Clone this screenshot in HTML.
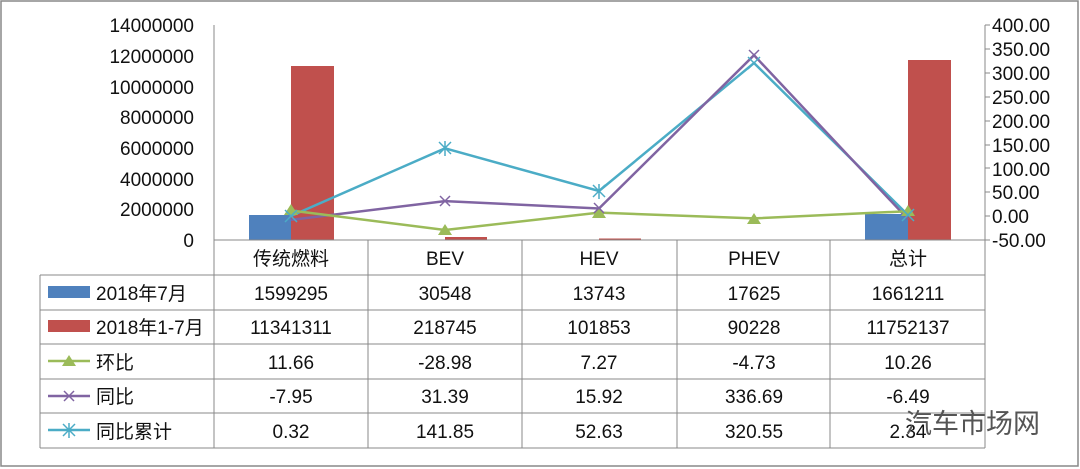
<!DOCTYPE html><html><head><meta charset="utf-8"><style>body{margin:0;background:#fff}svg{display:block}text{font-family:"Liberation Sans","Noto Sans CJK SC",sans-serif;fill:#111}</style></head><body>
<svg width="1080" height="469" viewBox="0 0 1080 469">
<rect x="1" y="1" width="1077" height="465" fill="#fff" stroke="#888" stroke-width="1.5"/>
<g font-size="19" text-anchor="end">
<text x="194" y="32">14000000</text><text x="194" y="63">12000000</text><text x="194" y="94">10000000</text><text x="194" y="124">8000000</text><text x="194" y="155">6000000</text><text x="194" y="186">4000000</text><text x="194" y="216">2000000</text><text x="194" y="247">0</text>
</g>
<g font-size="19">
<text x="992" y="32">400.00</text><text x="992" y="56">350.00</text><text x="992" y="80">300.00</text><text x="992" y="104">250.00</text><text x="992" y="128">200.00</text><text x="992" y="152">150.00</text><text x="992" y="176">100.00</text><text x="992" y="199">50.00</text><text x="992" y="223">0.00</text><text x="992" y="247">-50.00</text>
</g>
<line x1="214" y1="25" x2="214" y2="448" stroke="#888"/>
<line x1="985" y1="25" x2="985" y2="448" stroke="#888"/>
<g stroke="#888"><line x1="985" y1="25" x2="990" y2="25"/><line x1="985" y1="49" x2="990" y2="49"/><line x1="985" y1="73" x2="990" y2="73"/><line x1="985" y1="97" x2="990" y2="97"/><line x1="985" y1="121" x2="990" y2="121"/><line x1="985" y1="145" x2="990" y2="145"/><line x1="985" y1="168" x2="990" y2="168"/><line x1="985" y1="192" x2="990" y2="192"/><line x1="985" y1="216" x2="990" y2="216"/><line x1="985" y1="240" x2="990" y2="240"/></g>
<g fill="#4F81BD"><rect x="249" y="215" width="42" height="25"/><rect x="865" y="214" width="43" height="26"/><rect x="403" y="239.5" width="42" height="0.5"/></g>
<g fill="#C0504D"><rect x="291" y="66" width="43" height="174"/><rect x="908" y="60" width="43" height="180"/><rect x="445" y="237" width="42" height="3"/><rect x="599" y="238.5" width="42" height="1.5"/></g>
<polyline points="291,216 445,148.3 599,191 754,63 908,215" fill="none" stroke="#4BACC6" stroke-width="2.5"/>
<polyline points="291,219.9 445,201.1 599,208.5 754,55.2 908,219.2" fill="none" stroke="#8064A2" stroke-width="2.5"/>
<polyline points="291,210.5 445,230 599,212.6 754,218.4 908,211.2" fill="none" stroke="#9BBB59" stroke-width="2.5"/>
<g fill="#9BBB59"><path d="M291,204 l7,11 h-14z"/><path d="M445,224 l7,11 h-14z"/><path d="M599,207 l7,11 h-14z"/><path d="M754,213 l7,11 h-14z"/><path d="M908,205 l7,11 h-14z"/></g>
<g stroke="#8064A2" stroke-width="1.5"><path d="M440,196l10,10M450,196l-10,10M749,50l10,10M759,50l-10,10M594,203l10,10M604,203l-10,10"/></g>
<g stroke="#4BACC6" stroke-width="1.5"><path d="M439,142l12,12M451,142l-12,12M445,141v15M593,185l12,12M605,185l-12,12M599,184v15M748,57l12,12M760,57l-12,12M285,210l12,12M297,210l-12,12M902,209l12,12M914,209l-12,12"/></g>
<g stroke="#888" fill="none">
<line x1="214" y1="240" x2="985" y2="240"/>
<line x1="40" y1="275" x2="985" y2="275"/><line x1="40" y1="310" x2="985" y2="310"/><line x1="40" y1="344" x2="985" y2="344"/><line x1="40" y1="379" x2="985" y2="379"/><line x1="40" y1="413" x2="985" y2="413"/><line x1="40" y1="448" x2="985" y2="448"/>
<line x1="40" y1="275" x2="40" y2="448"/>
<line x1="368" y1="240" x2="368" y2="448"/><line x1="522" y1="240" x2="522" y2="448"/><line x1="677" y1="240" x2="677" y2="448"/><line x1="830" y1="240" x2="830" y2="448"/>
</g>
<g font-size="19" text-anchor="middle">
<text x="291" y="265">传统燃料</text><text x="445" y="265">BEV</text><text x="599" y="265">HEV</text><text x="754" y="265">PHEV</text><text x="908" y="265">总计</text>
<text x="291" y="300">1599295</text><text x="445" y="300">30548</text><text x="599" y="300">13743</text><text x="754" y="300">17625</text><text x="908" y="300">1661211</text>
<text x="291" y="334">11341311</text><text x="445" y="334">218745</text><text x="599" y="334">101853</text><text x="754" y="334">90228</text><text x="908" y="334">11752137</text>
<text x="291" y="369">11.66</text><text x="445" y="369">-28.98</text><text x="599" y="369">7.27</text><text x="754" y="369">-4.73</text><text x="908" y="369">10.26</text>
<text x="291" y="403">-7.95</text><text x="445" y="403">31.39</text><text x="599" y="403">15.92</text><text x="754" y="403">336.69</text><text x="908" y="403">-6.49</text>
<text x="291" y="438">0.32</text><text x="445" y="438">141.85</text><text x="599" y="438">52.63</text><text x="754" y="438">320.55</text><text x="908" y="438">2.34</text>
</g>
<rect x="48" y="286" width="42" height="12" fill="#4F81BD"/>
<rect x="48" y="320" width="42" height="12" fill="#C0504D"/>
<line x1="48" y1="361" x2="90" y2="361" stroke="#9BBB59" stroke-width="2.5"/><path d="M69,355l7,11h-14z" fill="#9BBB59"/>
<line x1="48" y1="396" x2="90" y2="396" stroke="#8064A2" stroke-width="2.5"/><path d="M64,391l10,10M74,391l-10,10" stroke="#8064A2" stroke-width="1.5"/>
<line x1="48" y1="430" x2="90" y2="430" stroke="#4BACC6" stroke-width="2.5"/><path d="M63,424l12,12M75,424l-12,12M69,423v15" stroke="#4BACC6" stroke-width="1.5"/>
<g font-size="19"><text x="96" y="300">2018年7月</text><text x="96" y="334">2018年1-7月</text><text x="96" y="369">环比</text><text x="96" y="403">同比</text><text x="96" y="438">同比累计</text></g>
<text x="905" y="433" font-size="27" style="fill:#555">汽车市场网</text>
</svg></body></html>
